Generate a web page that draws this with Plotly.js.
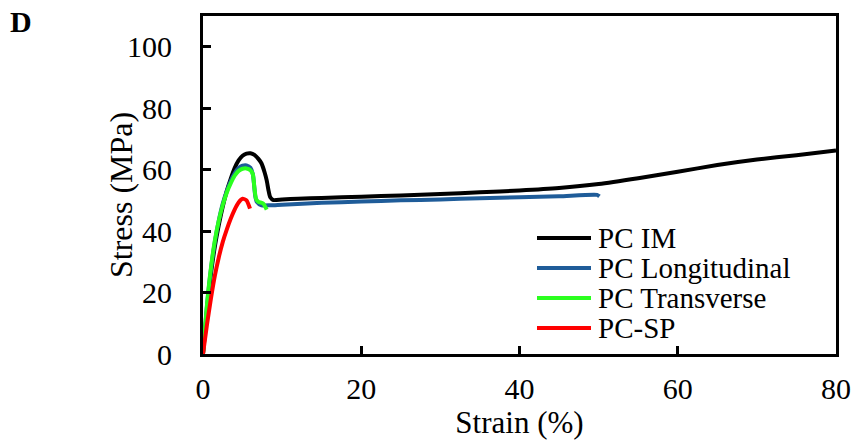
<!DOCTYPE html>
<html>
<head>
<meta charset="utf-8">
<script src="https://cdn.plot.ly/plotly-3.0.1.min.js"></script>
<style>
  html, body { margin: 0; padding: 0; background: #fff; }
  #chart { width: 857px; height: 440px; }
</style>
</head>
<body>
<div id="chart"></div>
<script>
// Stress-strain curves of polycarbonate specimens (strain in %, stress in MPa)
const imStrain = [0, 0.5, 1, 1.5, 2, 2.5, 3, 3.5, 4, 4.5, 5, 5.5, 6, 6.5, 7, 7.4, 7.8, 8.05, 8.3, 8.5, 8.9, 10, 12, 15, 20, 25, 30, 35, 40, 45, 50, 55, 60, 65, 70, 75, 80];
const imStress = [0, 14, 26, 35, 42, 48, 53, 57, 60.5, 63, 64.5, 65.2, 65.3, 64.8, 63.5, 62, 59, 56.5, 53, 51, 50.1, 50.3, 50.5, 50.8, 51.2, 51.6, 52.1, 52.6, 53.2, 54, 55.3, 57.2, 59.3, 61.5, 63.3, 64.7, 66.2];

const lonStrain = [0, 0.5, 1, 1.5, 2, 2.5, 3, 3.5, 4, 4.5, 5, 5.5, 6, 6.3, 6.6, 6.8, 7.4, 8.5, 10, 15, 20, 25, 30, 35, 40, 45, 49.8, 50.1];
const lonStress = [0, 15.5, 27.5, 36.5, 43.5, 49, 53, 56.3, 58.8, 60.5, 61.3, 61.4, 60.6, 58.5, 51.5, 49.5, 48.4, 48.4, 48.6, 49.2, 49.6, 50, 50.3, 50.7, 51, 51.3, 51.8, 51.3];

const traStrain = [0, 0.5, 1, 1.5, 2, 2.5, 3, 3.5, 4, 4.5, 5, 5.5, 6, 6.3, 6.5, 6.7, 7, 7.6, 8.05];
const traStress = [0, 16, 28, 37, 43.5, 48.5, 52.5, 55.5, 58, 59.6, 60.3, 60.4, 59.8, 58.5, 54, 50.5, 49.5, 49, 47];

const spStrain = [0, 0.5, 1, 1.5, 2, 2.5, 3, 3.5, 4, 4.5, 5, 5.5, 5.94];
const spStress = [0, 9.5, 18, 25.5, 31.5, 36.5, 40.5, 44, 47, 49.3, 50.5, 50, 47.3];

const seriesNames = ['PC IM', 'PC Longitudinal', 'PC Transverse', 'PC-SP'];
const seriesColors = ['#000000', '#1f5c99', '#2bff1f', '#ff0000'];
const xTicks = [0, 20, 40, 60, 80];
const yTicks = [0, 20, 40, 60, 80, 100];

const serif = 'Liberation Serif';
const W = 857, H = 440;
const M = { l: 203, r: 21, t: 16, b: 86 };
const plotW = W - M.l - M.r, plotH = H - M.t - M.b;
// convert page pixels to paper fractions of the plot area
const px = v => (v - M.l) / plotW;
const py = v => (H - M.b - v) / plotH;

const xs = [imStrain, lonStrain, traStrain, spStrain];
const ys = [imStress, lonStress, traStress, spStress];

const traces = seriesNames.map((name, i) => ({
  x: xs[i],
  y: ys[i],
  name: name,
  type: 'scatter',
  mode: 'lines',
  showlegend: false,
  line: { color: seriesColors[i], width: 4, shape: 'spline', smoothing: 0.6 }
}));

// legend key: a short line sample followed by the series name, one row each
const keyTop = 238, keyStep = 30, keyX0 = 537, keyX1 = 591, keyText = 596;
const keyShapes = seriesNames.map((name, i) => ({
  type: 'line', xref: 'paper', yref: 'paper',
  x0: px(keyX0), x1: px(keyX1),
  y0: py(keyTop + i * keyStep), y1: py(keyTop + i * keyStep),
  line: { color: seriesColors[i], width: 4 }
}));
const keyLabels = seriesNames.map((name, i) => ({
  text: name, xref: 'paper', yref: 'paper',
  x: px(keyText), y: py(keyTop + i * keyStep),
  xanchor: 'left', yanchor: 'middle', showarrow: false,
  font: { family: serif, size: 29, color: '#000' }
}));

const axisCommon = {
  showline: true,
  linecolor: '#000',
  linewidth: 3,
  mirror: true,
  showgrid: false,
  zeroline: false,
  ticks: 'inside',
  ticklen: 8,
  tickwidth: 3,
  tickcolor: '#000',
  tickfont: { family: serif, size: 30, color: '#000' }
};

const layout = {
  width: W,
  height: H,
  margin: M,
  paper_bgcolor: '#fff',
  plot_bgcolor: '#fff',
  showlegend: false,
  xaxis: Object.assign({}, axisCommon, {
    range: [0, 80],
    tickvals: xTicks,
    ticktext: xTicks.map(String),
    ticklabelstandoff: 6,
    title: { text: 'Strain (%)', font: { family: serif, size: 31, color: '#000' }, standoff: 0 }
  }),
  yaxis: Object.assign({}, axisCommon, {
    range: [0, 110],
    tickvals: yTicks,
    ticktext: yTicks.map(String),
    ticklabelstandoff: 22
  }),
  shapes: keyShapes,
  annotations: [{
    text: '<b>D</b>',
    xref: 'paper', yref: 'paper',
    x: px(8), y: py(3), xanchor: 'left', yanchor: 'top',
    showarrow: false,
    font: { family: serif, size: 30, color: '#000' }
  }, {
    // vertical axis title, set close to the tick labels
    text: 'Stress (MPa)',
    xref: 'paper', yref: 'paper',
    x: px(121), y: py(195), xanchor: 'center', yanchor: 'middle',
    textangle: -90, showarrow: false,
    font: { family: serif, size: 32, color: '#000' }
  }].concat(keyLabels)
};

Plotly.newPlot('chart', traces, layout, { displayModeBar: false, staticPlot: true });
</script>
</body>
</html>
